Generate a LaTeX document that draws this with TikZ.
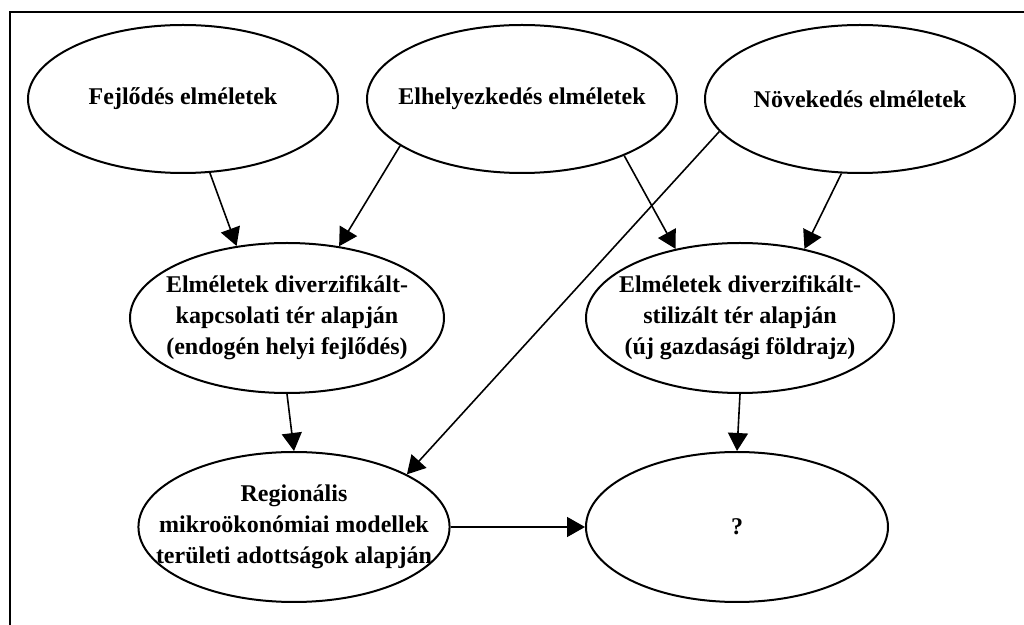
\documentclass[tikz,border=0pt]{standalone}
\usepackage{fontspec}
\setmainfont{Liberation Serif}
\usetikzlibrary{arrows.meta,shapes.geometric}

\begin{document}
\begin{tikzpicture}[x=0.5pt,y=-0.5pt,
  elli/.style={ellipse, draw, line width=1pt, inner xsep=-14pt, inner ysep=0pt, align=center, font=\bfseries\fontsize{12}{15.5}\selectfont},
  topel/.style={elli, minimum width=155pt, minimum height=74pt},
  midel/.style={elli, minimum width=154pt, minimum height=75pt},
  arr/.style={-{Triangle[length=9pt,width=10pt]}, line width=0.8pt},
]
\useasboundingbox (0,0) rectangle (1024,625);
% frame
\draw[line width=1pt] (10,625) -- (10,12) -- (1024,12);
% ---- top row ----
\node[topel] (T1) at (183,99) {Fejlődés elméletek};
\node[topel] (T2) at (522,99) {Elhelyezkedés elméletek};
\node[topel] (T3) at (860,99) {Növekedés elméletek};
% ---- middle row ----
\node[midel, minimum width=157pt] (M1) at (287,318) {Elméletek diverzifikált-\\kapcsolati tér alapján\\(endogén helyi fejlődés)};
\node[midel] (M2) at (740,318) {Elméletek diverzifikált-\\stilizált tér alapján\\(új gazdasági földrajz)};
% ---- bottom row ----
\node[midel, minimum width=151pt] (B1) at (294,527) {Regionális\\mikroökonómiai modellek\\területi adottságok alapján};
\node[midel, minimum width=151pt] (B2) at (737,527) {?};
% ---- arrows ----
\draw[arr] (T1.-70.6) -- (M1.125.5);
\draw[arr] (T2.201) -- (M1.54);
\draw[arr] (T2.-29) -- (M2.133);
\draw[arr] (T3.-104) -- (M2.47.5);
\draw[arr] (T3.193) -- (B1.25);
\draw[arr] (M1.south) -- (B1.north);
\draw[arr] (M2.south) -- (B2.north);
\draw[arr] (B1.east) -- (B2.west);
\end{tikzpicture}
\end{document}
